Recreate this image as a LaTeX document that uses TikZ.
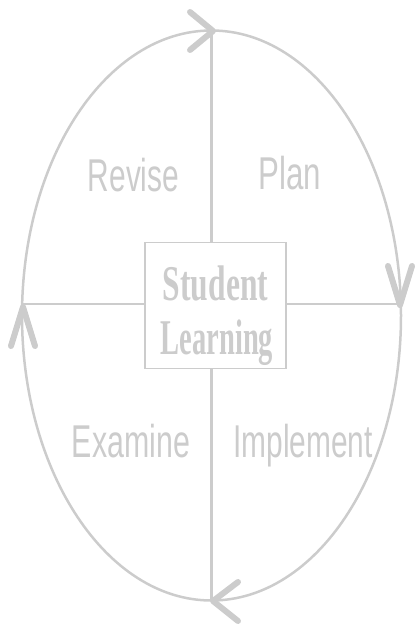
\documentclass[tikz,border=0pt]{standalone}
\usepackage{fontspec}
\setmainfont{Liberation Serif}
\newfontfamily\labelfont{Liberation Sans}
\definecolor{lg}{RGB}{204,204,204}
\begin{document}
\begin{tikzpicture}[x=1pt,y=-1pt,
  ln/.style={draw=lg,line width=2.5pt},
  chev/.style={draw=lg,line width=6pt,line cap=round,line join=round},
  box/.style={draw=lg,line width=1.5pt,fill=white,minimum width=141pt,minimum height=126pt,inner sep=0pt},
  lab/.style={text=lg,font=\labelfont\fontsize{46}{46}\selectfont,anchor=base,inner sep=0pt},
  ctr/.style={text=lg,font=\bfseries\fontsize{50}{50}\selectfont,anchor=base,inner sep=0pt}]
\useasboundingbox (0,0) rectangle (418,629);
\coordinate (top) at (211.5,30.5);
\coordinate (bottom) at (211.5,600.5);
\coordinate (left) at (22,304);
\coordinate (right) at (401,304);
\draw[ln] (211.5,315.5) ellipse [x radius=189.5, y radius=285];
\draw[ln] (top) -- (bottom);
\draw[ln] (left) -- (right);
\node[box] (sl) at (215.5,305.5) {};
\node[ctr] (t1) at (215.5,300) {\scalebox{0.63}[1]{Student}};
\node[ctr] (t2) at (217,354) {\scalebox{0.57}[1]{Learning}};
\node[lab] (revise) at (133.5,191.5) {\scalebox{0.65}[1]{Revise}};
\node[lab] (plan) at (290,189.5) {\scalebox{0.68}[1]{Plan}};
\node[lab] (examine) at (131,457.5) {\scalebox{0.66}[1]{Examine}};
\node[lab] (implement) at (303,457.5) {\scalebox{0.65}[1]{Implement}};
% arrowheads
\coordinate (ta) at (213,31);
\coordinate (ra) at (400,305);
\coordinate (ba) at (213,601);
\coordinate (la) at (23,307);
\draw[chev] (190,12) -- (ta) -- (190,50);
\draw[chev] (388,266) -- (ra) -- (412,266);
\draw[chev] (238,582) -- (ba) -- (238,621);
\draw[chev] (11,346) -- (la) -- (35,346);
\end{tikzpicture}
\end{document}
